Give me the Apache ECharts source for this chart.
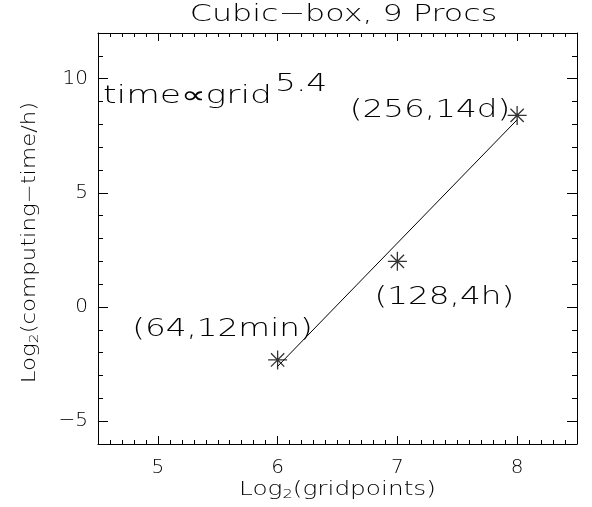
<!DOCTYPE html>
<html>
<head>
<meta charset="utf-8">
<title>Cubic-box, 9 Procs</title>
<script src="https://cdn.jsdelivr.net/npm/echarts@6/dist/echarts.min.js"></script>
<style>
html, body { margin: 0; padding: 0; background: #fff; }
#chart { width: 592px; height: 507px; }
</style>
</head>
<body>
<div id="chart"></div>
<script>
// log2 of grid size and log2 of computing time in hours
var gridLog2 = [6, 7, 8];
var timeLog2 = [-2.32, 2.0, 8.39];
var pointLabels = ['(64,12min)', '(128,4h)', '(256,14d)'];
// fitted power law, time ~ grid^5.4
var fitX = [6, 8];
var fitY = [-2.6, 8.2];
var xRange = [4.5, 8.5];
var yRange = [-6, 12];
var xMajor = [5, 6, 7, 8];
var yMajor = [-5, 0, 5, 10];

var FONT = 'DejaVu Sans';
var INK = '#000';
var chart = echarts.init(document.getElementById('chart'));

function minusFmt(v) {
  return v < 0 ? '\u2212' + (-v) : String(v);
}

function xAx(pos, major) {
  return {
    type: 'value', position: pos, min: xRange[0], max: xRange[1],
    interval: major ? undefined : 0.1,
    axisLine: { show: major, onZero: false, lineStyle: { color: INK, width: 1 } },
    axisTick: major
      ? { inside: true, length: 8, customValues: xMajor, lineStyle: { color: INK } }
      : { inside: true, length: 4, lineStyle: { color: INK } },
    axisLabel: (major && pos === 'bottom')
      ? { show: true, customValues: xMajor, margin: 14, color: INK, fontFamily: FONT, fontSize: 20, fontWeight: 200 }
      : { show: false },
    splitLine: { show: false }
  };
}

function yAx(pos, major) {
  return {
    type: 'value', position: pos, min: yRange[0], max: yRange[1],
    interval: major ? undefined : 1,
    axisLine: { show: major, onZero: false, lineStyle: { color: INK, width: 1 } },
    axisTick: major
      ? { inside: true, length: 10, customValues: yMajor, lineStyle: { color: INK } }
      : { inside: true, length: 5, lineStyle: { color: INK } },
    axisLabel: (major && pos === 'left')
      ? { show: true, customValues: yMajor, margin: 10, color: INK, fontFamily: FONT, fontSize: 20, fontWeight: 200, formatter: minusFmt }
      : { show: false },
    splitLine: { show: false }
  };
}

var starPath = 'path://M0,-10L0,10M-10,0L10,0M-7,-7L7,7M-7,7L7,-7';

chart.setOption({
  animation: false,
  backgroundColor: '#fff',
  grid: { left: 98, right: 15, top: 33, bottom: 63 },
  xAxis: [xAx('bottom', true), xAx('bottom', false), xAx('top', true), xAx('top', false)],
  yAxis: [yAx('left', true), yAx('left', false), yAx('right', true), yAx('right', false)],
  series: [
    {
      type: 'line',
      data: fitX.map(function (x, i) { return [x, fitY[i]]; }),
      showSymbol: false,
      lineStyle: { color: INK, width: 1 },
      silent: true
    },
    {
      type: 'scatter',
      data: gridLog2.map(function (x, i) { return [x, timeLog2[i]]; }),
      symbol: starPath,
      symbolSize: 19,
      itemStyle: { color: 'none', borderColor: INK, borderWidth: 1.3 },
      silent: true
    }
  ]
});

// text drawn as graphic elements so the wide plotting font can be imitated
function txt(x, y, text, opt) {
  opt = opt || {};
  return {
    type: 'text', x: x, y: y,
    scaleX: opt.sx || 1.36, rotation: opt.rot || 0,
    style: {
      text: text, x: 0, y: 0,
      fill: INK, fontFamily: FONT, fontSize: opt.size || 24, fontWeight: 200,
      align: opt.align || 'center', verticalAlign: 'middle',
      rich: opt.rich
    },
    silent: true
  };
}

var p = gridLog2.map(function (x, i) {
  return chart.convertToPixel({ xAxisIndex: 0, yAxisIndex: 0 }, [x, timeLog2[i]]);
});
var tl = chart.convertToPixel({ xAxisIndex: 0, yAxisIndex: 0 }, [xRange[0], yRange[1]]);
var br = chart.convertToPixel({ xAxisIndex: 0, yAxisIndex: 0 }, [xRange[1], yRange[0]]);
var cx = (tl[0] + br[0]) / 2, cy = (tl[1] + br[1]) / 2;

var subRich = { sub: { fontSize: 13, fontFamily: FONT, fontWeight: 200, fill: INK, padding: [9, 0, 0, 0] } };

chart.setOption({
  graphic: [
    txt(cx + 6, tl[1] - 18, 'Cubic\u2212box, 9 Procs', { size: 23, sx: 1.38 }),
    txt(p[0][0] + 35, p[0][1] - 30, pointLabels[0], { align: 'right' }),
    txt(p[1][0] + 47, p[1][1] + 36, pointLabels[1]),
    txt(p[2][0] - 7, p[2][1] - 5, pointLabels[2], { align: 'right' }),
    txt(tl[0] + 5, tl[1] + 64, 'time\u221dgrid', { align: 'left', sx: 1.44 }),
    txt(tl[0] + 177, tl[1] + 52, '5.4', { align: 'left', sx: 1.37 }),
    txt(cx, br[1] + 46, 'Log{sub|2}(gridpoints)', { size: 20, sx: 1.24, rich: subRich }),
    txt(30, cy + 4, 'Log{sub|2}(computing\u2212time/h)', { size: 19, sx: 1.2, rot: Math.PI / 2, rich: subRich })
  ]
});
</script>
</body>
</html>
